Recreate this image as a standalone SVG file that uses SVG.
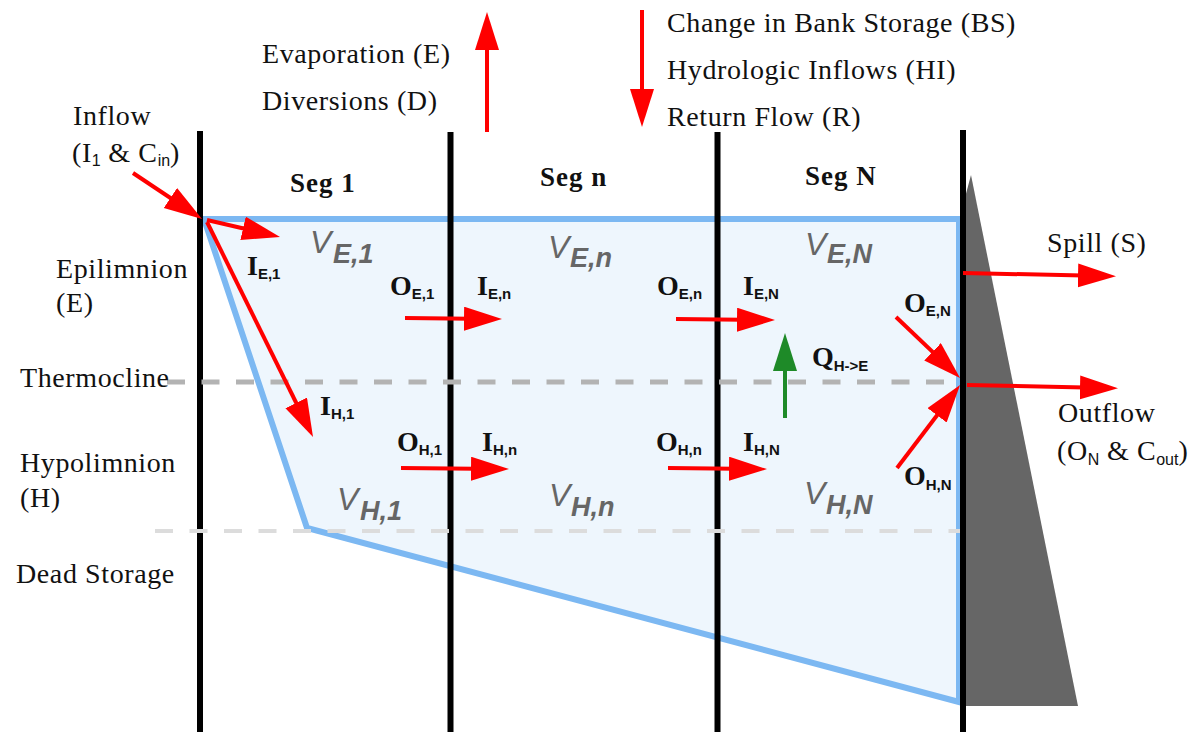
<svg xmlns="http://www.w3.org/2000/svg" width="1188" height="732" viewBox="0 0 1188 732">
<defs>
<style>
.lbl{font-family:"Liberation Serif","Times New Roman",serif;font-size:28px;letter-spacing:0.6px;fill:#111}
.seg{font-family:"Liberation Serif","Times New Roman",serif;font-size:27px;font-weight:bold;letter-spacing:1px;fill:#111}
.sub{font-family:"Liberation Sans",Arial,sans-serif;font-size:16px;letter-spacing:0}
.fl{font-family:"Liberation Serif","Times New Roman",serif;font-size:28px;font-weight:bold;fill:#111}
.fs{font-family:"Liberation Sans",Arial,sans-serif;font-size:15px;font-weight:bold}
.vol{font-family:"Liberation Sans",Arial,sans-serif;font-size:32px;font-style:italic;fill:#666}
.vs{font-size:27px;font-weight:bold}
.seg-line{stroke:#000;stroke-width:6;fill:none}
.red{stroke:#f00;stroke-width:4;fill:none;marker-end:url(#ar)}
.grn{stroke:#1e8a28;stroke-width:4;fill:none;marker-end:url(#ag)}
</style>
<marker id="ar" markerUnits="userSpaceOnUse" markerWidth="40" markerHeight="26" refX="28" refY="12" orient="auto"><path d="M0,0 L38,12 L0,24 z" fill="#f00"/></marker>
<marker id="ag" markerUnits="userSpaceOnUse" markerWidth="40" markerHeight="26" refX="28" refY="12" orient="auto"><path d="M0,0 L38,12 L0,24 z" fill="#1e8a28"/></marker>
</defs>
<rect width="1188" height="732" fill="#fff"/>

<g id="reservoir">
<polygon points="204,219 959,219 959,702 307,528" fill="#eef6fd" stroke="#7cb8f2" stroke-width="6" stroke-linejoin="miter"/>
</g>
<g id="dam">
<polygon points="963,706 963,205 971,175 1078,706" fill="#666"/>
</g>
<g id="segment-boundaries">
<line class="seg-line" x1="200" y1="131" x2="200" y2="732"/>
<line class="seg-line" x1="450.5" y1="132" x2="450.5" y2="732"/>
<line class="seg-line" x1="717.5" y1="132" x2="717.5" y2="732"/>
<line class="seg-line" x1="963" y1="130" x2="963" y2="732"/>
</g>
<g id="layer-lines">
<line x1="167" y1="382" x2="960" y2="382" stroke="#b3b3b3" stroke-width="5" stroke-dasharray="18 16.5"/>
<line x1="155" y1="531" x2="960" y2="531" stroke="#dcdcdc" stroke-width="4" stroke-dasharray="18 16.5"/>
</g>

<g id="connectors">
<line class="red" x1="133" y1="173" x2="193.7" y2="213.5"/>
<line class="red" x1="207" y1="220" x2="270.3" y2="234.7"/>
<line class="red" x1="207" y1="222" x2="308.6" y2="428"/>
<line class="red" x1="405" y1="318" x2="492" y2="319"/>
<line class="red" x1="676" y1="319" x2="765" y2="320"/>
<line class="red" x1="401" y1="468" x2="499" y2="469"/>
<line class="red" x1="668" y1="468" x2="757" y2="469"/>
<line class="grn" x1="785" y1="418" x2="785" y2="343"/>
<line class="red" x1="896" y1="317" x2="952.8" y2="371.1"/>
<line class="red" x1="897" y1="468" x2="954" y2="393"/>
<line class="red" x1="967" y1="385" x2="1108" y2="388"/>
<line class="red" x1="963" y1="273" x2="1106" y2="276"/>
<line class="red" x1="487" y1="132" x2="487" y2="22"/>
<line class="red" x1="642" y1="10" x2="642" y2="117"/>
</g>

<g id="labels-left">
<text class="lbl" x="73" y="125">Inflow</text>
<text class="lbl" x="72" y="162">(I<tspan class="sub" dy="4">1</tspan><tspan dy="-4"> &amp; C</tspan><tspan class="sub" dy="4">in</tspan><tspan dy="-4">)</tspan></text>
<text class="lbl" x="56" y="278">Epilimnion</text>
<text class="lbl" x="56" y="312">(E)</text>
<text class="lbl" x="20" y="387">Thermocline</text>
<text class="lbl" x="20" y="472">Hypolimnion</text>
<text class="lbl" x="20" y="507">(H)</text>
<text class="lbl" x="16" y="583">Dead Storage</text>
</g>
<g id="labels-top">
<text class="lbl" x="262" y="63">Evaporation (E)</text>
<text class="lbl" x="262" y="110">Diversions (D)</text>
<text class="lbl" x="667" y="32">Change in Bank Storage (BS)</text>
<text class="lbl" x="667" y="79">Hydrologic Inflows (HI)</text>
<text class="lbl" x="667" y="126">Return Flow (R)</text>
</g>
<g id="labels-right">
<text class="lbl" x="1047" y="252">Spill (S)</text>
<text class="lbl" x="1058" y="422">Outflow</text>
<text class="lbl" x="1057" y="460">(O<tspan class="sub" dy="5">N</tspan><tspan dy="-5"> &amp; C</tspan><tspan class="sub" dy="5">out</tspan><tspan dy="-5">)</tspan></text>
</g>
<g id="segments">
<text class="seg" x="290" y="192">Seg 1</text>
<text class="seg" x="540" y="186">Seg n</text>
<text class="seg" x="805" y="185">Seg N</text>
</g>
<g id="volumes">
<text class="vol" x="310" y="253">V<tspan class="vs" x="333" y="263">E,1</tspan></text>
<text class="vol" x="548" y="258">V<tspan class="vs" x="570" y="267">E,n</tspan></text>
<text class="vol" x="805" y="255">V<tspan class="vs" x="827" y="263">E,N</tspan></text>
<text class="vol" x="337" y="510">V<tspan class="vs" x="360" y="520">H,1</tspan></text>
<text class="vol" x="549" y="506">V<tspan class="vs" x="571" y="516">H,n</tspan></text>
<text class="vol" x="804" y="504">V<tspan class="vs" x="826" y="514">H,N</tspan></text>
</g>
<g id="flow-labels">
<text class="fl" x="247" y="275">I<tspan class="fs" dy="4">E,1</tspan></text>
<text class="fl" x="320" y="415">I<tspan class="fs" dy="4">H,1</tspan></text>
<text class="fl" x="390" y="295">O<tspan class="fs" dy="4">E,1</tspan></text>
<text class="fl" x="477" y="295">I<tspan class="fs" dy="4">E,n</tspan></text>
<text class="fl" x="657" y="295">O<tspan class="fs" dy="4">E,n</tspan></text>
<text class="fl" x="743" y="295">I<tspan class="fs" dy="4">E,N</tspan></text>
<text class="fl" x="397" y="451">O<tspan class="fs" dy="4">H,1</tspan></text>
<text class="fl" x="482" y="451">I<tspan class="fs" dy="4">H,n</tspan></text>
<text class="fl" x="656" y="451">O<tspan class="fs" dy="4">H,n</tspan></text>
<text class="fl" x="743" y="451">I<tspan class="fs" dy="4">H,N</tspan></text>
<text class="fl" x="812" y="366">Q<tspan class="fs" dy="5">H-&gt;E</tspan></text>
<text class="fl" x="904" y="312">O<tspan class="fs" dy="4">E,N</tspan></text>
<text class="fl" x="904" y="485">O<tspan class="fs" dy="5">H,N</tspan></text>
</g>
</svg>
